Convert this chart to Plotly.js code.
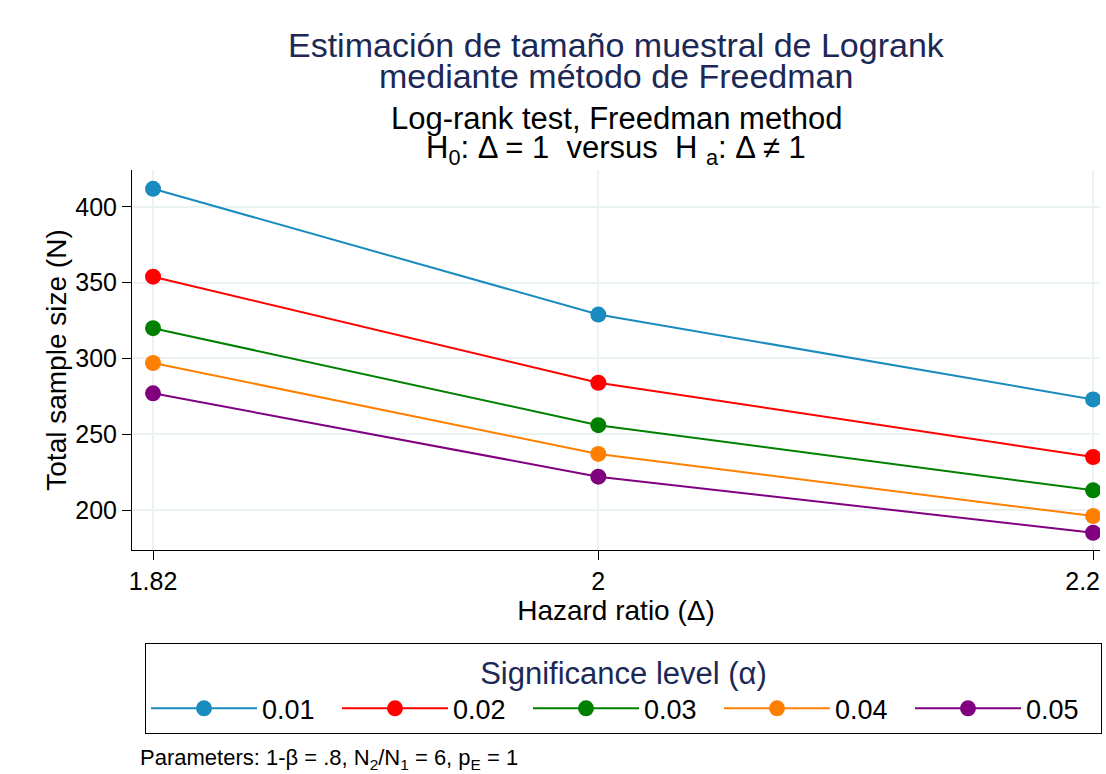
<!DOCTYPE html>
<html><head><meta charset="utf-8">
<script src="https://cdn.plot.ly/plotly-3.0.1.min.js"></script>
<style>body{margin:0;background:#fff}#c{width:1106px;height:774px}</style>
</head><body><div id="c"></div>
<script>
const hazardRatio = [1.82, 2, 2.2];
const alphaLabels = ["0.01", "0.02", "0.03", "0.04", "0.05"];
const n001 = [412, 329, 273];
const n002 = [354, 284, 235];
const n003 = [320, 256, 213];
const n004 = [297, 237, 196];
const n005 = [277, 222, 185];
const seriesValues = [n001, n002, n003, n004, n005];
const colors = ["#1a8bbf", "#ff0000", "#008000", "#ff8000", "#800080"];
const xTicks = [1.82, 2, 2.2];
const xTickText = ["1.82", "2", "2.2\u00a0\u00a0\u00a0"];
const yTicks = [200, 250, 300, 350, 400];
const titleLines = ["Estimación de tamaño muestral de Logrank", "mediante método de Freedman"];
const subtitleLines = ["Log-rank test, Freedman method", "H<sub>0</sub>: Δ = 1  versus  H <sub>a</sub>: Δ ≠ 1"];
const footnote = "Parameters: 1-β = .8, N<sub>2</sub>/N<sub>1</sub> = 6, p<sub>E</sub> = 1";

const font = "Liberation Sans, Arial, sans-serif";
const traces = seriesValues.map((v, i) => ({
  type: "scatter", mode: "lines+markers", x: hazardRatio, y: v, name: alphaLabels[i],
  line: {color: colors[i], width: 2}, marker: {color: colors[i], size: 16}
}));

const ann = (text, y, size, color, x, xanchor) => ({text, xref: "paper", yref: "paper", x: x, y: y,
  xanchor: xanchor, yanchor: "middle", showarrow: false, font: {size, color, family: font}});

const layout = {
  width: 1106, height: 774,
  paper_bgcolor: "#fff", plot_bgcolor: "#fff",
  margin: {l: 132, r: 6, t: 170, b: 224},
  font: {family: font, color: "#000"},
  showlegend: true,
  xaxis: {range: [1.8115, 2.2028], tickvals: xTicks, ticktext: xTickText, showgrid: true, gridcolor: "#eaf2f3", gridwidth: 2,
    zeroline: false, showline: true, linecolor: "#000", linewidth: 1, ticks: "outside", ticklen: 9, tickcolor: "#000",
    tickfont: {size: 25}, ticklabeloverflow: "allow", title: {text: "Hazard ratio (Δ)", font: {size: 28}, standoff: 2}},
  yaxis: {range: [173.6, 424.4], tickvals: yTicks, showgrid: true, gridcolor: "#eaf2f3", gridwidth: 2,
    zeroline: false, showline: true, linecolor: "#000", linewidth: 1, ticks: "outside", ticklen: 9, tickcolor: "#000",
    tickfont: {size: 25}, title: {text: "Total sample size (N)", font: {size: 28}, standoff: 0}},
  legend: {orientation: "h", xref: "container", yref: "container", x: 145/1106, y: 1 - 643/774, xanchor: "left", yanchor: "top",
    bordercolor: "#000", borderwidth: 1, bgcolor: "#fff",
    font: {size: 27}, itemwidth: 106, entrywidth: 70, entrywidthmode: "pixels",
    title: {text: "Significance level (α)", side: "top center", font: {size: 31, color: "#1c2855"}}},
  annotations: [
    ann(titleLines[0], (550 - 45) / 380, 34, "#1c2855", 0.5, "center"),
    ann(titleLines[1], (550 - 76) / 380, 34, "#1c2855", 0.5, "center"),
    ann(subtitleLines[0], (550 - 118) / 380, 31, "#000", 0.5, "center"),
    ann(subtitleLines[1], (550 - 150) / 380, 31, "#000", 0.5, "center"),
    ann(footnote, (550 - 759) / 380, 22, "#000", (138 - 132) / 968, "left")
  ]
};
Plotly.newPlot("c", traces, layout, {displayModeBar: false});
</script></body></html>
